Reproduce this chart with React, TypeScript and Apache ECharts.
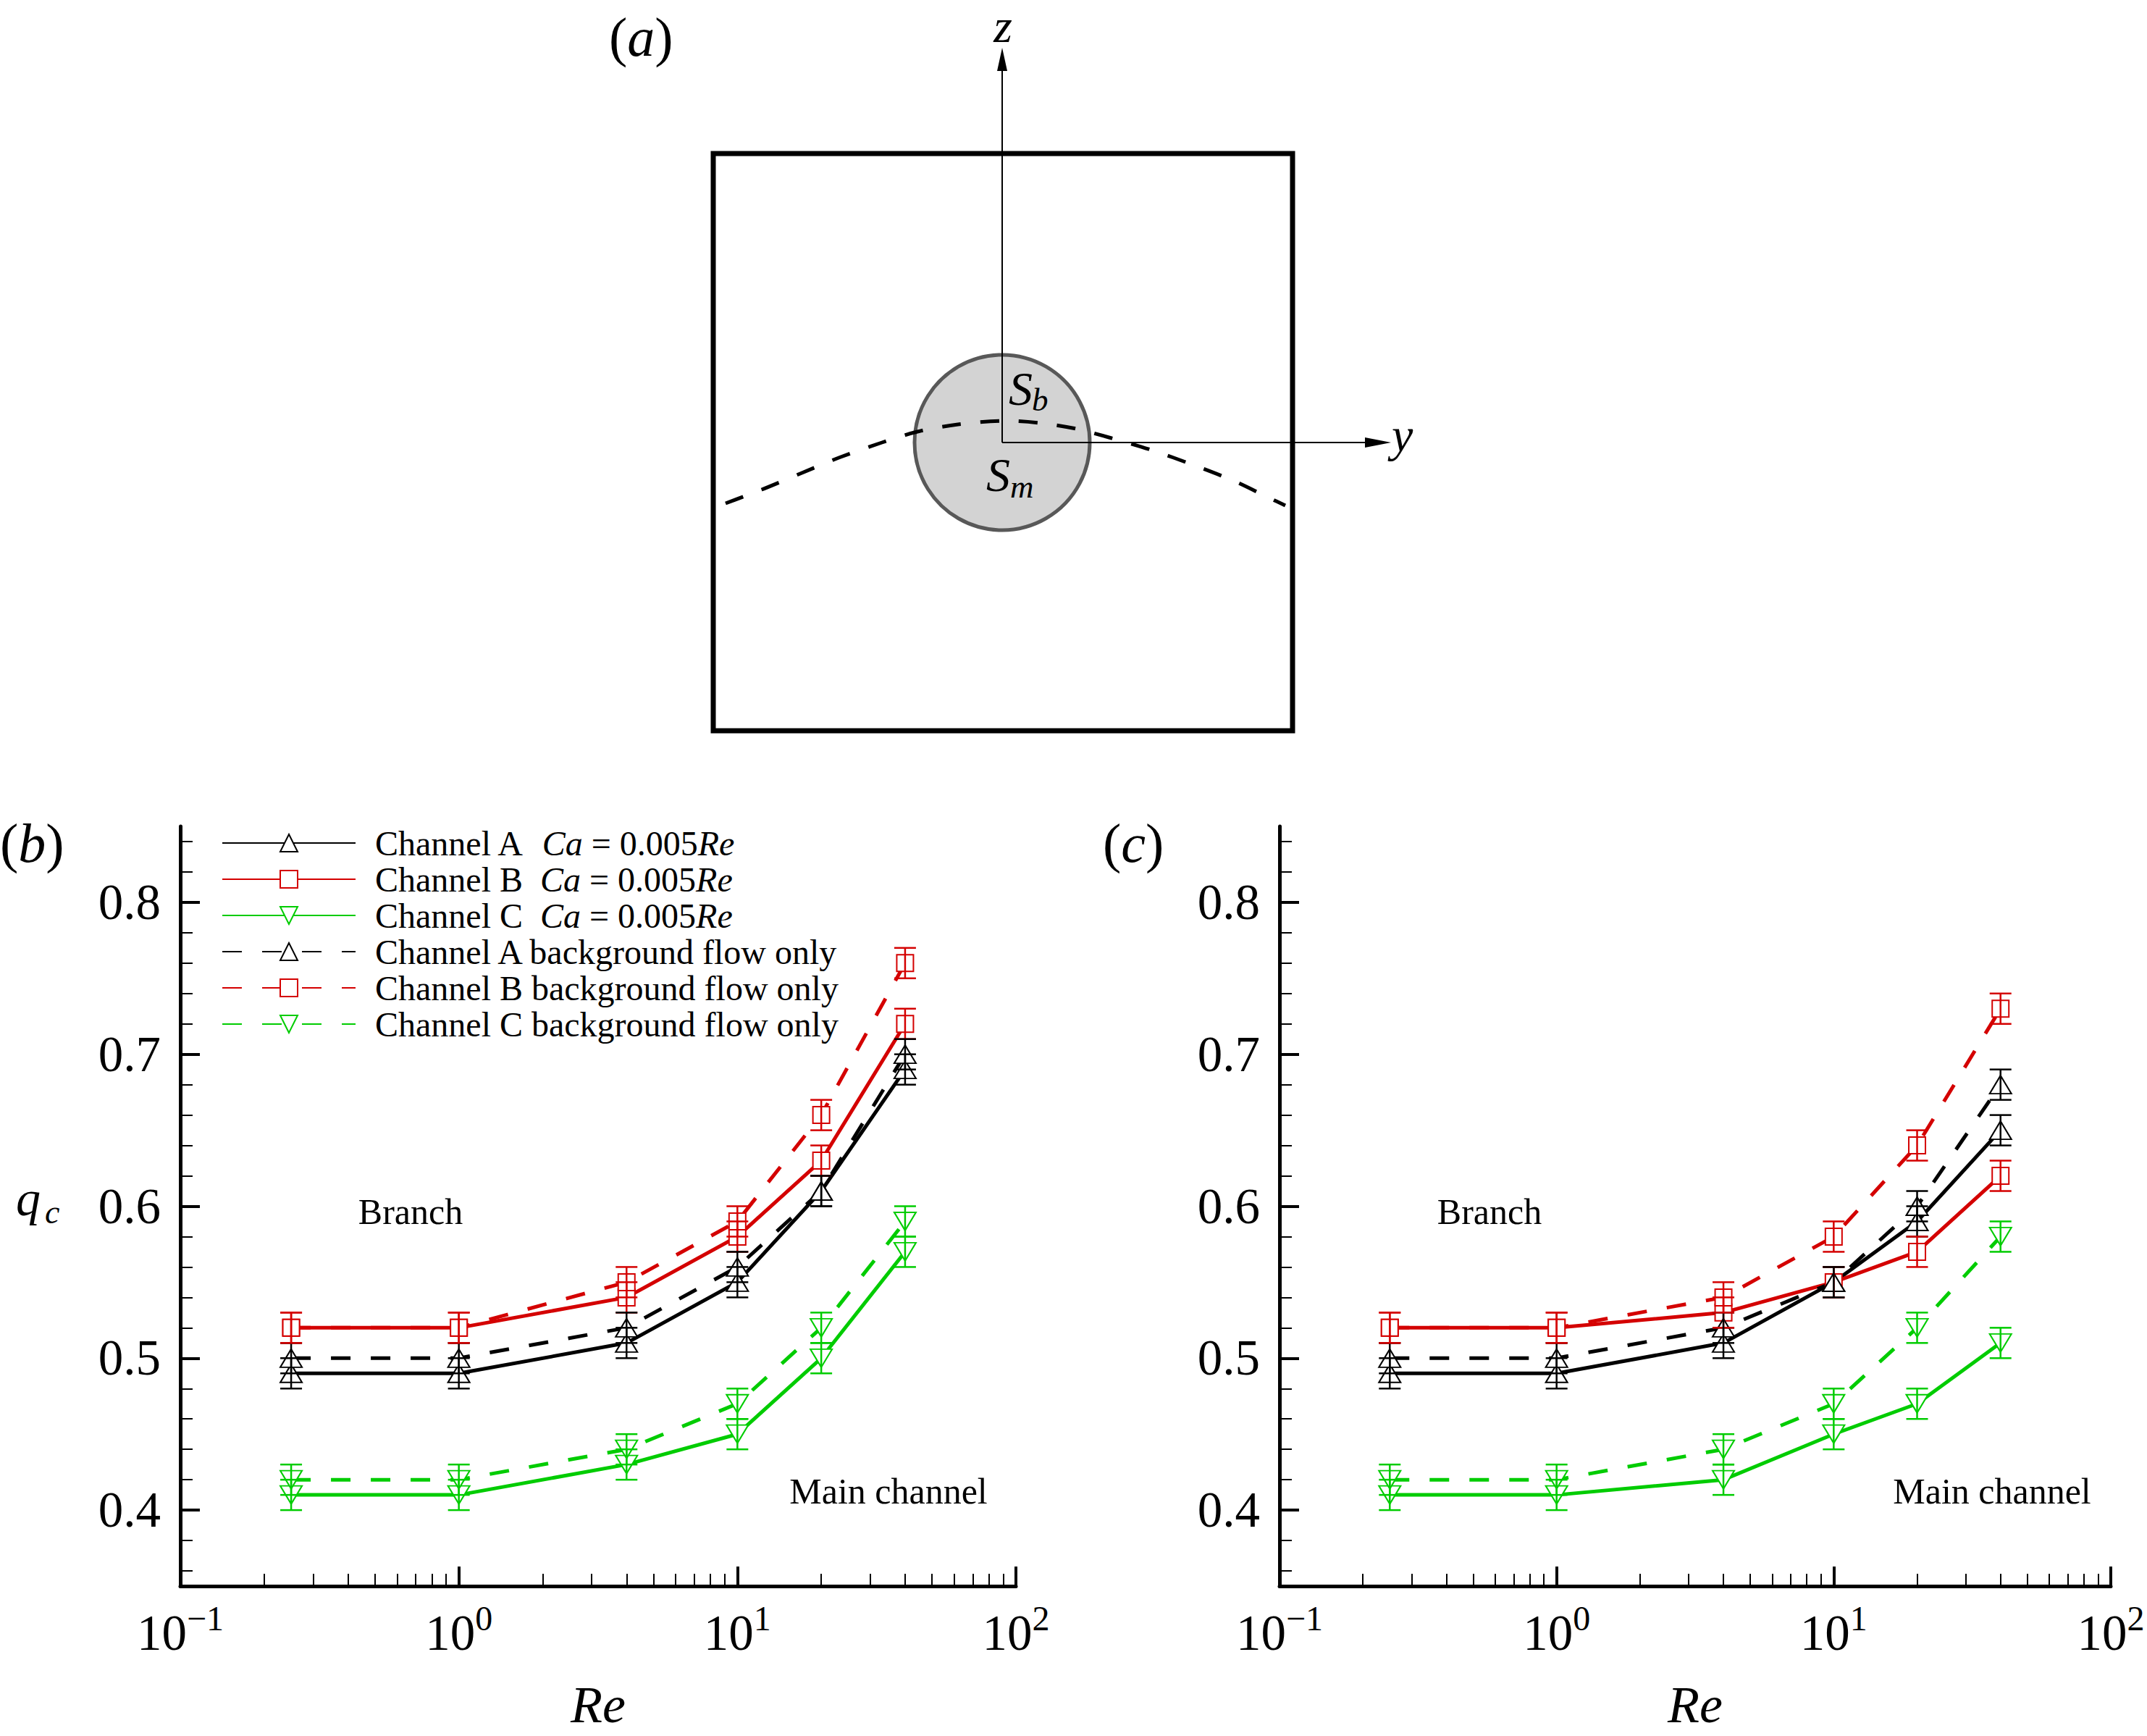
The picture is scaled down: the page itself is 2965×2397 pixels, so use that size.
import React, { useEffect, useRef } from 'react';
import * as echarts from 'echarts';

// ---------- data ----------
const RE = [0.25, 1, 4, 10, 20, 40];

// panel (b)
const B_A_CA = [0.49, 0.49, 0.51, 0.55, 0.61, 0.69];
const B_B_CA = [0.52, 0.52, 0.54, 0.58, 0.63, 0.72];
const B_C_CA = [0.41, 0.41, 0.43, 0.45, 0.5, 0.57];
const B_A_BG = [0.5, 0.5, 0.52, 0.56, 0.61, 0.7];
const B_B_BG = [0.52, 0.52, 0.55, 0.59, 0.66, 0.76];
const B_C_BG = [0.42, 0.42, 0.44, 0.47, 0.52, 0.59];

// panel (c)
const C_A_CA = [0.49, 0.49, 0.51, 0.55, 0.59, 0.65];
const C_B_CA = [0.52, 0.52, 0.53, 0.55, 0.57, 0.62];
const C_C_CA = [0.41, 0.41, 0.42, 0.45, 0.47, 0.51];
const C_A_BG = [0.5, 0.5, 0.52, 0.55, 0.6, 0.68];
const C_B_BG = [0.52, 0.52, 0.54, 0.58, 0.64, 0.73];
const C_C_BG = [0.42, 0.42, 0.44, 0.47, 0.52, 0.58];

const ERR = 0.01; // half-height of every error bar

const Y_MAJOR = [0.4, 0.5, 0.6, 0.7, 0.8];
const Y_MINOR = [0.36, 0.38, 0.42, 0.44, 0.46, 0.48, 0.52, 0.54, 0.56, 0.58, 0.62, 0.64, 0.66, 0.68, 0.72, 0.74, 0.76, 0.78, 0.82, 0.84];
const X_MINOR = [0.2, 0.3, 0.4, 0.5, 0.6, 0.7, 0.8, 0.9, 2, 3, 4, 5, 6, 7, 8, 9, 20, 30, 40, 50, 60, 70, 80, 90];

// ---------- styles ----------
const FONT = '"Liberation Serif", "Times New Roman", Times, serif';
const BLACK = '#000000';
const RED = '#d40000';
const GREEN = '#00cc00';

const STYLES = [
  { key: 'A_ca', label: 'Channel A', ca: true, color: BLACK, symbol: 'emptyTriangle', rotate: 0, size: [30, 25] },
  { key: 'B_ca', label: 'Channel B', ca: true, color: RED, symbol: 'emptyRect', rotate: 0, size: [23, 23] },
  { key: 'C_ca', label: 'Channel C', ca: true, color: GREEN, symbol: 'emptyTriangle', rotate: 180, size: [30, 25] },
  { key: 'A_bg', label: 'Channel A', ca: false, color: BLACK, symbol: 'emptyTriangle', rotate: 0, size: [30, 25] },
  { key: 'B_bg', label: 'Channel B', ca: false, color: RED, symbol: 'emptyRect', rotate: 0, size: [23, 23] },
  { key: 'C_bg', label: 'Channel C', ca: false, color: GREEN, symbol: 'emptyTriangle', rotate: 180, size: [30, 25] },
];

const PANEL_B = [B_A_CA, B_B_CA, B_C_CA, B_A_BG, B_B_BG, B_C_BG];
const PANEL_C = [C_A_CA, C_B_CA, C_C_CA, C_A_BG, C_B_BG, C_C_BG];

const GRIDS = [
  { left: 249, top: 1141, width: 1154, height: 1049 },
  { left: 1767, top: 1141, width: 1148, height: 1049 },
];

function panelSeries(g: number, sets: number[][], suffix: string) {
  const out: any[] = [];
  sets.forEach((vals, i) => {
    const s = STYLES[i];
    out.push({
      type: 'line',
      name: s.key + suffix,
      xAxisIndex: 2 * g,
      yAxisIndex: 2 * g,
      data: RE.map((x, j) => [x, vals[j]]),
      symbol: s.symbol,
      symbolSize: s.size,
      symbolRotate: s.rotate,
      lineStyle: { color: s.color, width: 5, type: s.ca ? 'solid' : [27, 28] },
      itemStyle: { color: s.color, borderWidth: 2 },
      z: 2,
      silent: true,
      animation: false,
    });
    out.push({
      type: 'custom',
      name: 'err' + i + suffix,
      xAxisIndex: 2 * g,
      yAxisIndex: 2 * g,
      data: RE.map((x, j) => [x, vals[j] - ERR, vals[j] + ERR]),
      encode: { x: 0, y: [1, 2] },
      z: 5,
      silent: true,
      clip: false,
      renderItem: (_p: any, api: any) => {
        const x = api.value(0);
        const lo = api.coord([x, api.value(1)]);
        const hi = api.coord([x, api.value(2)]);
        const st = { stroke: s.color, lineWidth: 2.5 };
        const h = 15;
        return {
          type: 'group',
          children: [
            { type: 'line', shape: { x1: lo[0], y1: lo[1], x2: hi[0], y2: hi[1] }, style: st },
            { type: 'line', shape: { x1: lo[0] - h, y1: lo[1], x2: lo[0] + h, y2: lo[1] }, style: st },
            { type: 'line', shape: { x1: hi[0] - h, y1: hi[1], x2: hi[0] + h, y2: hi[1] }, style: st },
          ],
        };
      },
    });
  });
  return out;
}

function xAxes(g: number) {
  return [
    {
      type: 'log',
      logBase: 10,
      gridIndex: g,
      min: 0.1,
      max: 100,
      position: 'bottom',
      name: 'Re',
      nameLocation: 'middle',
      nameGap: 128,
      nameTextStyle: { fontFamily: FONT, fontSize: 72, fontStyle: 'italic', color: '#000' },
      axisLine: { show: true, onZero: false, lineStyle: { color: '#000', width: 5 } },
      axisTick: { show: true, inside: true, length: 27, lineStyle: { color: '#000', width: 4 } },
      minorTick: { show: false },
      splitLine: { show: false },
      axisLabel: {
        margin: 20,
        formatter: (v: number) => {
          const e = Math.round(Math.log10(v));
          return '{b|10}{s|' + (e < 0 ? '\u2212' + -e : String(e)) + '}';
        },
        rich: {
          b: { fontFamily: FONT, fontSize: 69, color: '#000', lineHeight: 90 },
          s: { fontFamily: FONT, fontSize: 48, color: '#000', lineHeight: 48, verticalAlign: 'top' },
        },
      },
    },
    {
      type: 'value',
      gridIndex: g,
      min: -1,
      max: 2,
      position: 'bottom',
      axisLine: { show: false, onZero: false },
      axisTick: {
        show: true,
        inside: true,
        length: 17,
        lineStyle: { color: '#000', width: 2 },
        customValues: X_MINOR.map((v) => Math.log10(v)),
      },
      axisLabel: { show: false },
      splitLine: { show: false },
    },
  ];
}

function yAxes(g: number) {
  return [
    {
      type: 'value',
      gridIndex: g,
      min: 0.35,
      max: 0.85,
      position: 'left',
      axisLine: { show: true, onZero: false, lineStyle: { color: '#000', width: 5 } },
      axisTick: { show: true, inside: true, length: 27, lineStyle: { color: '#000', width: 4 }, customValues: Y_MAJOR },
      axisLabel: {
        customValues: Y_MAJOR,
        margin: 27,
        fontFamily: FONT,
        fontSize: 69,
        color: '#000',
        formatter: (v: number) => v.toFixed(1),
      },
      splitLine: { show: false },
    },
    {
      type: 'value',
      gridIndex: g,
      min: 0.35,
      max: 0.85,
      position: 'left',
      axisLine: { show: false, onZero: false },
      axisTick: { show: true, inside: true, length: 17, lineStyle: { color: '#000', width: 2 }, customValues: Y_MINOR },
      axisLabel: { show: false },
      splitLine: { show: false },
    },
  ];
}

function txt(text: string, x: number, y: number, size: number, italic = false, align = 'left', z = 50): any {
  return {
    type: 'text',
    x,
    y,
    z,
    silent: true,
    style: {
      text,
      fill: '#000',
      fontFamily: FONT,
      fontSize: size,
      fontStyle: italic ? 'italic' : 'normal',
      align,
      textAlign: align,
      verticalAlign: 'middle',
      textVerticalAlign: 'middle',
    },
  };
}

function panelLabel(letter: string, x: number, y: number): any {
  return {
    type: 'text',
    x,
    y,
    z: 50,
    silent: true,
    style: {
      text: '{r|(}{i|' + letter + '}{r|)}',
      fill: '#000',
      fontFamily: FONT,
      fontSize: 76,
      align: 'left',
      textAlign: 'left',
      verticalAlign: 'middle',
      textVerticalAlign: 'middle',
      rich: {
        r: { fontFamily: FONT, fontSize: 76, fill: '#000', color: '#000' },
        i: { fontFamily: FONT, fontSize: 76, fontStyle: 'italic', fill: '#000', color: '#000' },
      },
    },
  };
}

const CURVE = [
  [1002, 695], [1052, 676], [1105, 654], [1161, 631], [1218, 611], [1267, 596], [1323, 586], [1385, 581],
  [1436, 584], [1486, 592], [1535, 605], [1592, 622], [1648, 642], [1704, 664], [1754, 688], [1775, 698],
];

function schematic(): any[] {
  const ln = { stroke: '#000', lineWidth: 2 };
  return [
    { type: 'rect', z: 10, silent: true, shape: { x: 985, y: 212, width: 800, height: 797 }, style: { fill: 'transparent', stroke: '#000', lineWidth: 7 } },
    { type: 'circle', z: 11, silent: true, shape: { cx: 1384, cy: 611, r: 121 }, style: { fill: '#d3d3d3', stroke: '#585858', lineWidth: 5 } },
    { type: 'line', z: 12, silent: true, shape: { x1: 1384, y1: 611, x2: 1384, y2: 96 }, style: ln },
    { type: 'polygon', z: 12, silent: true, shape: { points: [[1384, 66], [1377, 98], [1391, 98]] }, style: { fill: '#000' } },
    { type: 'line', z: 12, silent: true, shape: { x1: 1384, y1: 611, x2: 1888, y2: 611 }, style: ln },
    { type: 'polygon', z: 12, silent: true, shape: { points: [[1921, 611], [1885, 604], [1885, 618]] }, style: { fill: '#000' } },
    { type: 'polyline', z: 13, silent: true, shape: { points: CURVE, smooth: 0.3 }, style: { fill: 'transparent', stroke: '#000', lineWidth: 5, lineDash: [26, 27] } },
    txt('z', 1385, 35, 66, true, 'center'),
    txt('y', 1922, 600, 66, true, 'left'),
    txt('S', 1393, 536, 66, true, 'left'),
    txt('b', 1425, 552, 45, true, 'left'),
    txt('S', 1362, 655, 66, true, 'left'),
    txt('m', 1395, 672, 45, true, 'left'),
  ];
}

function buildOption(): any {
  const legendNames = STYLES.map((s) => s.key);
  const richBase = { fontFamily: FONT, fontSize: 48, color: '#000', lineHeight: 30 };
  return {
    animation: false,
    backgroundColor: '#ffffff',
    grid: GRIDS.map((g) => ({ ...g, containLabel: false, outerBoundsMode: 'none' })),
    xAxis: [...xAxes(0), ...xAxes(1)],
    yAxis: [...yAxes(0), ...yAxes(1)],
    legend: {
      show: true,
      orient: 'vertical',
      left: 306,
      top: 1140,
      padding: 0,
      itemGap: 2,
      itemWidth: 184,
      itemHeight: 30,
      selectedMode: false,
      data: legendNames,
      formatter: (name: string) => {
        const s = STYLES.find((d) => d.key === name)!;
        return s.ca
          ? '{f|' + s.label + '  }{i|Ca}{r| = 0.005}{i|Re}'
          : '{f|' + s.label + ' background flow only}';
      },
      textStyle: {
        ...richBase,
        rich: {
          f: { ...richBase, padding: [0, 0, 0, 22] },
          r: { ...richBase },
          i: { ...richBase, fontStyle: 'italic' },
        },
      },
    },
    graphic: {
      elements: [
        ...schematic(),
        panelLabel('a', 841, 51),
        panelLabel('b', 0, 1164),
        panelLabel('c', 1523, 1164),
        txt('q', 22, 1655, 68, true, 'left'),
        txt('c', 62, 1673, 46, true, 'left'),
        txt('Branch', 567, 1673, 50, false, 'center'),
        txt('Branch', 2057, 1673, 50, false, 'center'),
        txt('Main channel', 1227, 2059, 50, false, 'center'),
        txt('Main channel', 2751, 2059, 50, false, 'center'),
      ],
    },
    series: [...panelSeries(0, PANEL_B, ''), ...panelSeries(1, PANEL_C, '_c')],
  };
}

export default function App() {
  const ref = useRef<HTMLDivElement>(null);
  useEffect(() => {
    document.body.style.margin = '0';
    const chart = echarts.init(ref.current as HTMLDivElement, null, { renderer: 'svg' });
    chart.setOption(buildOption());
    return () => {
      chart.dispose();
    };
  }, []);
  return <div ref={ref} style={{ width: 2965, height: 2397, background: '#ffffff' }} />;
}
